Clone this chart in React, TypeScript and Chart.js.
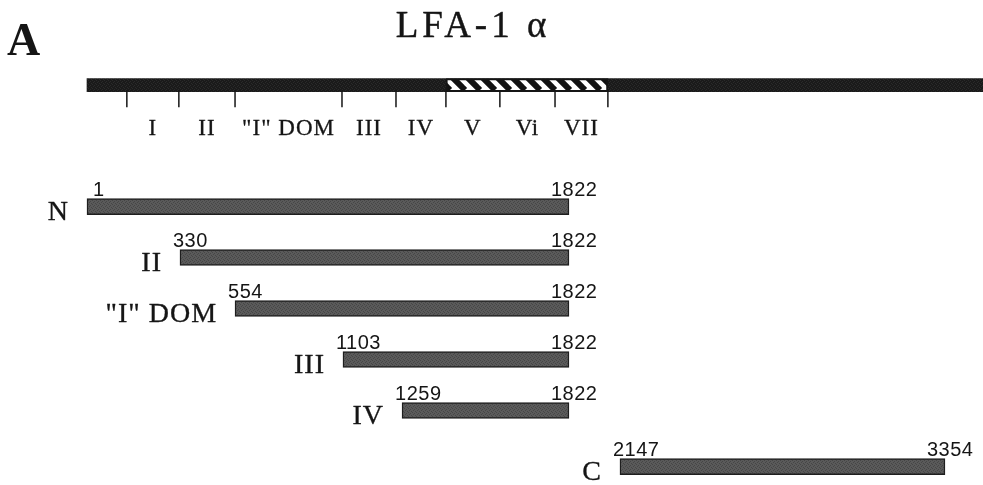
import React, { useEffect, useRef } from 'react';
import { Chart, registerables, LinearScale } from 'chart.js';

// ---------- data ----------
const PANEL = 'A';
const TITLE = 'LFA-1 α';
const BACKBONE_START = 1;
const BACKBONE_END = 3600; // runs off the right edge
const REPEAT_START = 1407; // hatched region (V–VII)
const REPEAT_END = 2070;
const DOMAIN_BOUNDS = [142, 326, 554, 1098, 1243, 1407, 1589, 1775, 2070];
const DOMAIN_LABELS = ['I', 'II', '"I" DOM', 'III', 'IV', 'V', 'Vi', 'VII'];
const CONSTRUCTS = ['N', 'II', '"I" DOM', 'III', 'IV', 'C'];
const STARTS = [1, 330, 554, 1103, 1259, 2147];
const ENDS = [1822, 1822, 1822, 1822, 1822, 3354];
const ROWS = [0, 1, 2, 3, 4, 5.1];
const BACKBONE_ROW = -2.38;
// the schematic is not drawn to scale: residue -> fraction of width
const KNOT_RESIDUES = [1, 330, 554, 1103, 1259, 1822, 2147, 3354];
const KNOT_FRACTIONS = [0.0885, 0.1831, 0.2391, 0.3489, 0.409, 0.5788, 0.6307, 0.9613];

function residueToFraction(v: number): number {
  const r = KNOT_RESIDUES, f = KNOT_FRACTIONS, n = r.length;
  let i = 0;
  if (v <= r[0]) i = 0;
  else if (v >= r[n - 1]) i = n - 2;
  else { while (i < n - 2 && v > r[i + 1]) i++; }
  const t = (v - r[i]) / (r[i + 1] - r[i]);
  return f[i] + t * (f[i + 1] - f[i]);
}
function fractionToResidue(p: number): number {
  const r = KNOT_RESIDUES, f = KNOT_FRACTIONS, n = r.length;
  let i = 0;
  if (p <= f[0]) i = 0;
  else if (p >= f[n - 1]) i = n - 2;
  else { while (i < n - 2 && p > f[i + 1]) i++; }
  const t = (p - f[i]) / (f[i + 1] - f[i]);
  return r[i] + t * (r[i + 1] - r[i]);
}

class SchematicScale extends LinearScale {
  static id = 'schematic';
  static defaults = LinearScale.defaults;
  getPixelForValue(value: any) {
    return this.left + residueToFraction(Number(value)) * this.width;
  }
  getValueForPixel(pixel: number) {
    return fractionToResidue((pixel - this.left) / this.width);
  }
}

Chart.register(...registerables, SchematicScale as any);

function makeStipple(ctx: CanvasRenderingContext2D, a: string, b: string) {
  const c = document.createElement('canvas');
  c.width = 4; c.height = 4;
  const g = c.getContext('2d')!;
  g.fillStyle = a; g.fillRect(0, 0, 4, 4);
  g.fillStyle = b;
  g.fillRect(0, 0, 1, 1); g.fillRect(2, 1, 1, 1); g.fillRect(1, 2, 1, 1); g.fillRect(3, 3, 1, 1);
  return ctx.createPattern(c, 'repeat')!;
}
function makeHatch(ctx: CanvasRenderingContext2D) {
  const s = 15;
  const c = document.createElement('canvas');
  c.width = s; c.height = s;
  const g = c.getContext('2d')!;
  g.fillStyle = '#ffffff'; g.fillRect(0, 0, s, s);
  g.strokeStyle = '#111111'; g.lineWidth = 6;
  for (const k of [-s, 0, s]) {
    g.beginPath(); g.moveTo(k, 0); g.lineTo(k + s, s); g.stroke();
  }
  return ctx.createPattern(c, 'repeat')!;
}

const SERIF = '"Liberation Serif", serif';
const SANS = '"Liberation Sans", sans-serif';

function heavyText(ctx: CanvasRenderingContext2D, s: string, x: number, y: number, w: number) {
  ctx.fillText(s, x, y);
  if (w > 0) {
    ctx.lineWidth = w;
    ctx.strokeText(s, x, y);
  }
}

const labelsPlugin = {
  id: 'schematicLabels',
  afterDatasetsDraw(chart: any) {
    const ctx: CanvasRenderingContext2D = chart.ctx;
    const xs = chart.scales.x, ys = chart.scales.y;
    ctx.save();
    ctx.fillStyle = '#151515';
    ctx.strokeStyle = '#151515';
    ctx.lineJoin = 'round';
    ctx.textBaseline = 'alphabetic';

    // panel letter and title
    ctx.font = `bold 46px ${SERIF}`;
    ctx.textAlign = 'left';
    heavyText(ctx, PANEL, 7, 55, 0);
    ctx.font = `37px ${SERIF}`;
    (ctx as any).letterSpacing = '4px';
    ctx.textAlign = 'center';
    heavyText(ctx, TITLE, 473, 37, 0.45);
    (ctx as any).letterSpacing = '0px';

    // domain ticks and labels
    const yb = ys.getPixelForValue(BACKBONE_ROW);
    ctx.lineWidth = 1.5;
    DOMAIN_BOUNDS.forEach((b) => {
      const x = xs.getPixelForValue(b);
      ctx.beginPath(); ctx.moveTo(x, yb + 5); ctx.lineTo(x, yb + 22); ctx.stroke();
    });
    ctx.font = `23px ${SERIF}`;
    (ctx as any).letterSpacing = '1px';
    ctx.textAlign = 'center';
    DOMAIN_LABELS.forEach((lab, i) => {
      const x = (xs.getPixelForValue(DOMAIN_BOUNDS[i]) + xs.getPixelForValue(DOMAIN_BOUNDS[i + 1])) / 2;
      heavyText(ctx, lab, x, yb + 50, 0.3);
    });

    // construct names and residue numbers
    CONSTRUCTS.forEach((name, i) => {
      const y = ys.getPixelForValue(ROWS[i]);
      const x0 = xs.getPixelForValue(STARTS[i]);
      const x1 = xs.getPixelForValue(ENDS[i]);
      ctx.font = `28px ${SERIF}`;
      (ctx as any).letterSpacing = '1px';
      ctx.textAlign = 'right';
      heavyText(ctx, name, x0 - 18, y + 13, 0.35);
      ctx.font = `20px ${SANS}`;
      (ctx as any).letterSpacing = '0.5px';
      ctx.textAlign = 'left';
      ctx.fillText(String(STARTS[i]), STARTS[i] === 1 ? x0 + 6 : x0 - 7, y - 11);
      ctx.fillText(String(ENDS[i]), x1 - 18, y - 11);
    });
    ctx.restore();
  },
};

export default function App() {
  const ref = useRef<HTMLCanvasElement | null>(null);
  useEffect(() => {
    const canvas = ref.current!;
    const ctx = canvas.getContext('2d')!;
    const constructFill = makeStipple(ctx, '#5a5a5a', '#464646');
    const backboneFill = makeStipple(ctx, '#1a1a1a', '#2a2a2a');
    const hatch = makeHatch(ctx);
    const chart = new Chart(ctx, {
      type: 'bar',
      data: {
        datasets: [
          {
            label: 'repeats',
            data: [{ x: [REPEAT_START, REPEAT_END], y: BACKBONE_ROW }] as any,
            backgroundColor: hatch as any,
            borderColor: '#151515',
            borderWidth: 2,
            borderSkipped: false,
            barThickness: 13,
            grouped: false,
            order: 0,
          },
          {
            label: 'backbone',
            data: [{ x: [BACKBONE_START, BACKBONE_END], y: BACKBONE_ROW }] as any,
            backgroundColor: backboneFill as any,
            borderWidth: 0,
            barThickness: 13,
            grouped: false,
            order: 1,
          },
          {
            label: 'constructs',
            data: CONSTRUCTS.map((_, i) => ({ x: [STARTS[i], ENDS[i]], y: ROWS[i] })) as any,
            backgroundColor: constructFill as any,
            borderColor: '#1e1e1e',
            borderWidth: 1.5,
            borderSkipped: false,
            barThickness: 16,
            grouped: false,
            order: 2,
          },
        ],
      },
      options: {
        indexAxis: 'y',
        responsive: false,
        animation: false,
        events: [],
        layout: { padding: 0 },
        plugins: { legend: { display: false }, tooltip: { enabled: false }, title: { display: false } },
        scales: {
          x: { type: 'schematic' as any, display: false, min: 0, max: 4000, offset: false },
          y: { type: 'linear', display: false, reverse: true, min: -4.05, max: 5.46, offset: false },
        },
      },
      plugins: [labelsPlugin],
    });
    return () => chart.destroy();
  }, []);
  return (
    <div style={{ position: 'absolute', left: 0, top: 0, width: 983, height: 485, background: '#fff' }}>
      <canvas ref={ref} width={983} height={485} style={{ display: 'block' }} />
    </div>
  );
}
